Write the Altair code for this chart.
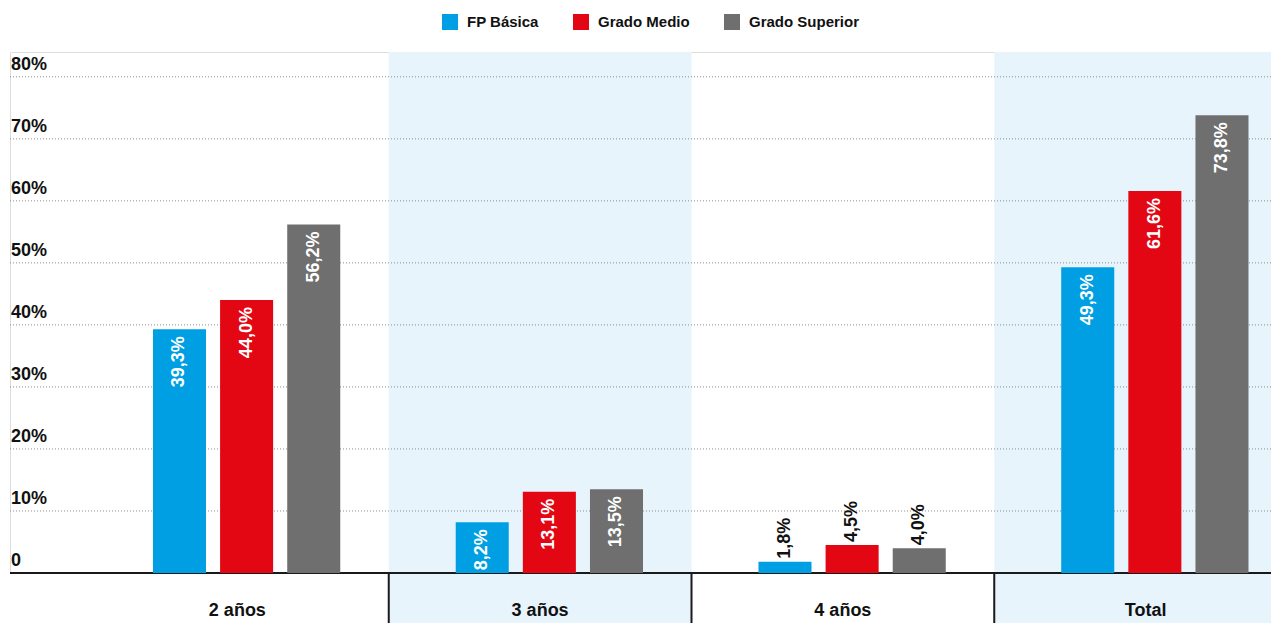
import altair as alt
import pandas as pd

groups = ["2 años", "3 años", "4 años", "Total"]
series = ["FP Básica", "Grado Medio", "Grado Superior"]
fp_basica = [39.3, 8.2, 1.8, 49.3]
grado_medio = [44.0, 13.1, 4.5, 61.6]
grado_superior = [56.2, 13.5, 4.0, 73.8]
colors = ["#009FE3", "#E30613", "#706F6F"]
y_ticks = [0, 10, 20, 30, 40, 50, 60, 70, 80]
y_tick_labels = ["0", "10%", "20%", "30%", "40%", "50%", "60%", "70%", "80%"]
shaded_groups = ["3 años", "Total"]
separator_groups = ["3 años", "4 años", "Total"]

rows = []
for s, vals in zip(series, [fp_basica, grado_medio, grado_superior]):
    for g, v in zip(groups, vals):
        rows.append({"group": g, "series": s, "value": v,
                     "label": f"{v:.1f}".replace(".", ",") + "%"})
df = pd.DataFrame(rows)

FONT = "Liberation Sans"
W, H = 1261, 521
BOTTOM = 50

yscale = alt.Scale(domain=[0, 84], nice=False, zero=True)
xscale = alt.Scale(domain=groups, range=[76, 1287], paddingInner=0, paddingOuter=0)
oscale = alt.Scale(domain=series, paddingInner=0.21, paddingOuter=0.86, align=0.58)

shade = alt.Chart(pd.DataFrame({"group": shaded_groups})).mark_rect(color="#E8F4FC").encode(
    x=alt.X("group:N", scale=xscale, axis=None),
    y=alt.value(0),
    y2=alt.value(H + BOTTOM),
)

grid = alt.Chart(pd.DataFrame({"v": y_ticks[1:]})).mark_rule(
    color="#8C8C8C", strokeDash=[1, 2], strokeWidth=1
).encode(y=alt.Y("v:Q", scale=yscale, axis=None))

baseline = alt.Chart(pd.DataFrame({"v": [0]})).mark_rule(color="#1A1A1A", strokeWidth=2).encode(
    y=alt.Y("v:Q", scale=yscale, axis=None)
)

seps = alt.Chart(pd.DataFrame({"group": separator_groups})).mark_rule(
    color="#1A1A1A", strokeWidth=2
).encode(
    x=alt.X("group:N", scale=xscale, axis=None, bandPosition=0),
    y=alt.value(H),
    y2=alt.value(H + BOTTOM),
)

xlabels = alt.Chart(pd.DataFrame({"group": groups})).mark_text(
    align="center", baseline="alphabetic", font=FONT, fontWeight="bold",
    fontSize=18, color="#111111"
).encode(
    x=alt.X("group:N", scale=xscale, axis=None),
    y=alt.value(H + 43),
    text="group:N",
)

bars = alt.Chart(df).mark_bar().encode(
    x=alt.X("group:N", scale=xscale, axis=None),
    xOffset=alt.XOffset("series:N", scale=oscale),
    y=alt.Y("value:Q", scale=yscale, axis=None),
    color=alt.Color("series:N", scale=alt.Scale(domain=series, range=colors), legend=alt.Legend(
        orient="none", legendX=432, legendY=-38, direction="horizontal", title=None,
        symbolType="square", symbolSize=256, symbolStrokeWidth=0, symbolOpacity=1,
        labelFont=FONT, labelFontSize=15, labelFontWeight="bold", labelColor="#111111",
        columnPadding=34, labelOffset=9)),
)

labels_in = alt.Chart(df).transform_filter("datum.value > 6").mark_text(
    angle=270, align="right", baseline="middle", dx=-7, color="white",
    font=FONT, fontWeight="bold", fontSize=18
).encode(
    x=alt.X("group:N", scale=xscale, axis=None),
    xOffset=alt.XOffset("series:N", scale=oscale),
    y=alt.Y("value:Q", scale=yscale, axis=None),
    text="label:N",
)

labels_out = alt.Chart(df).transform_filter("datum.value <= 6").mark_text(
    angle=270, align="left", baseline="middle", dx=3, color="#111111",
    font=FONT, fontWeight="bold", fontSize=18
).encode(
    x=alt.X("group:N", scale=xscale, axis=None),
    xOffset=alt.XOffset("series:N", scale=oscale),
    y=alt.Y("value:Q", scale=yscale, axis=None),
    text="label:N",
)

ylabels = alt.Chart(pd.DataFrame({"v": y_ticks, "t": y_tick_labels})).mark_text(
    align="left", baseline="alphabetic", dy=-7, font=FONT, fontWeight="bold",
    fontSize=18, color="#111111"
).encode(
    x=alt.value(1),
    y=alt.Y("v:Q", scale=yscale, axis=None),
    text="t:N",
)

chart = alt.layer(shade, grid, baseline, seps, xlabels, bars, labels_in, labels_out, ylabels).properties(
    width=W, height=H,
    autosize=alt.AutoSizeParams(type="none"),
    padding={"left": 2, "top": 44, "right": 0, "bottom": BOTTOM},
).configure_view(strokeWidth=0).configure(background="white")

chart.save("out.html", embed_options={"renderer": "svg", "actions": False})
